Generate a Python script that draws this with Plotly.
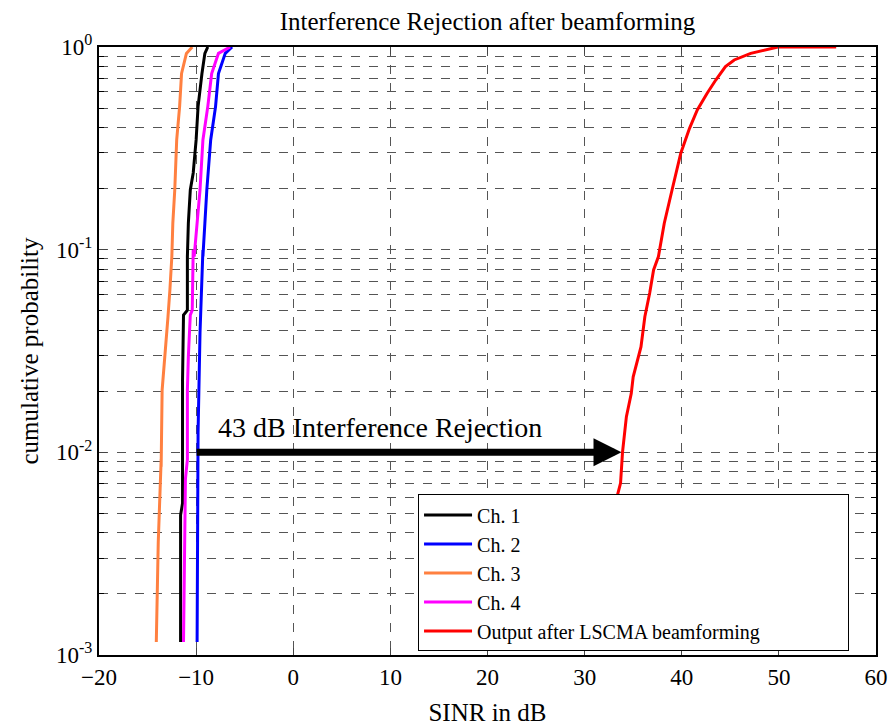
import math
import plotly.graph_objects as go

# ---- data (SINR in dB vs cumulative probability) ----
ch1_sinr = [-11.6, -11.6, -11.4, -11.4, -11.3, -10.9, -10.9, -10.8, -10.6, -10.3, -10.0, -9.8, -9.4, -9.1, -8.8]
ch1_prob = [0.00116, 0.0049, 0.0056, 0.0227, 0.0476, 0.0503, 0.0925, 0.135, 0.197, 0.239, 0.348, 0.508, 0.74, 0.93, 1.0]

ch2_sinr = [-9.9, -9.8, -9.6, -9.3, -9.3, -9.1, -8.9, -8.5, -8.0, -7.7, -7.0, -6.3]
ch2_prob = [0.00116, 0.0125, 0.0388, 0.0997, 0.0925, 0.135, 0.197, 0.348, 0.508, 0.74, 0.93, 1.0]

ch3_sinr = [-14.1, -13.9, -13.6, -13.6, -13.5, -13.2, -12.9, -12.7, -12.5, -12.4, -12.2, -12.0, -11.7, -11.5, -11.0, -10.4]
ch3_prob = [0.00116, 0.0036, 0.0092, 0.0085, 0.0203, 0.0297, 0.0465, 0.0633, 0.0925, 0.135, 0.197, 0.348, 0.508, 0.74, 0.93, 1.0]

ch4_sinr = [-11.3, -11.1, -10.9, -10.9, -10.8, -10.6, -10.4, -10.3, -10.2, -9.9, -9.6, -9.3, -8.8, -8.4, -7.7, -6.5]
ch4_prob = [0.00116, 0.0074, 0.0092, 0.0203, 0.0297, 0.0476, 0.0503, 0.0997, 0.0925, 0.135, 0.197, 0.348, 0.508, 0.74, 0.93, 1.0]

out_sinr = [33.4, 33.7, 33.9, 34.3, 34.8, 35.0, 35.8, 36.2, 36.7, 37.1, 37.6, 38.2, 39.0, 39.9, 40.8, 41.6, 42.6, 43.5, 44.5, 45.4, 47.1, 49.9, 55.9]
out_prob = [0.0062, 0.00705, 0.0100, 0.0150, 0.0195, 0.0236, 0.0331, 0.0467, 0.0611, 0.0794, 0.0925, 0.135, 0.197, 0.299, 0.397, 0.489, 0.59, 0.687, 0.80, 0.863, 0.93, 1.0, 1.0]

series_names = ["Ch. 1", "Ch. 2", "Ch. 3", "Ch. 4", "Output after LSCMA beamforming"]
series_colors = ["#000000", "#0000FF", "#FF8040", "#FF00FF", "#FF0000"]

x_ticks = [-20, -10, 0, 10, 20, 30, 40, 50, 60]
y_decades = [-3, -2, -1, 0]

arrow_start_db = -10.1
arrow_end_db = 33.8
arrow_prob = 0.01
arrow_label = "43 dB Interference Rejection"

# ---- figure ----
FONT = "Liberation Serif"
fig = go.Figure()
all_x = [ch1_sinr, ch2_sinr, ch3_sinr, ch4_sinr, out_sinr]
all_y = [ch1_prob, ch2_prob, ch3_prob, ch4_prob, out_prob]
for xs, ys, name, col in zip(all_x, all_y, series_names, series_colors):
    fig.add_trace(go.Scatter(x=xs, y=ys, mode="lines", name=name,
                             line=dict(color=col, width=3)))

y_major = [10.0 ** d for d in y_decades]
y_major_text = [f"10<sup>{d}</sup>" for d in y_decades]
y_minor = [k * 10.0 ** d for d in y_decades[:-1] for k in range(2, 10)]

fig.add_annotation(x=arrow_end_db, y=math.log10(arrow_prob), ax=arrow_start_db, ay=math.log10(arrow_prob),
                   xref="x", yref="y", axref="x", ayref="y",
                   showarrow=True, arrowhead=2, arrowsize=0.8, arrowwidth=7,
                   arrowcolor="black", text="")
fig.add_annotation(x=arrow_start_db + 2.1, y=math.log10(arrow_prob) + 0.125, xref="x", yref="y",
                   text=arrow_label, showarrow=False, xanchor="left",
                   font=dict(family=FONT, size=28, color="black"))

# the page body adds an 8px offset, so the figure is sized/margined to compensate
fig.update_layout(
    width=888, height=718,
    margin=dict(l=91, r=20, t=39, b=71),
    paper_bgcolor="white", plot_bgcolor="white",
    title=dict(text="Interference Rejection after beamforming", x=0.5, xref="paper", xanchor="center",
               y=1 - 4 / 718, yanchor="top", font=dict(family=FONT, size=25, color="black")),
    font=dict(family=FONT, size=23, color="black"),
    showlegend=True,
    legend=dict(x=0.4106, y=0.264, xanchor="left", yanchor="top", orientation="h",
                entrywidth=366, entrywidthmode="pixels", itemwidth=48,
                bgcolor="white", bordercolor="black", borderwidth=1,
                font=dict(family=FONT, size=20, color="black")),
)
fig.update_xaxes(range=[-20, 60], tickvals=x_ticks, ticks="inside", ticklen=7,
                 showline=True, linecolor="black", linewidth=2, mirror="allticks",
                 showgrid=True, gridcolor="#555555", griddash="dash", gridwidth=1,
                 zeroline=False, automargin=False, tickfont=dict(family=FONT, size=23),
                 title=dict(text="SINR in dB", font=dict(family=FONT, size=25), standoff=24))
fig.update_yaxes(type="log", range=[-3, 0], tickvals=y_major, ticktext=y_major_text,
                 ticks="inside", ticklen=8,
                 minor=dict(tickvals=y_minor, ticks="inside", ticklen=5, tickcolor="black",
                            showgrid=True, gridcolor="#555555", griddash="dash", gridwidth=1),
                 showline=True, linecolor="black", linewidth=2, mirror="allticks",
                 showgrid=True, gridcolor="#555555", griddash="dash", gridwidth=1,
                 zeroline=False, automargin=False, tickfont=dict(family=FONT, size=23),
                 title=dict(text="cumulative probability", font=dict(family=FONT, size=25), standoff=10))

fig.write_html("out.html")
